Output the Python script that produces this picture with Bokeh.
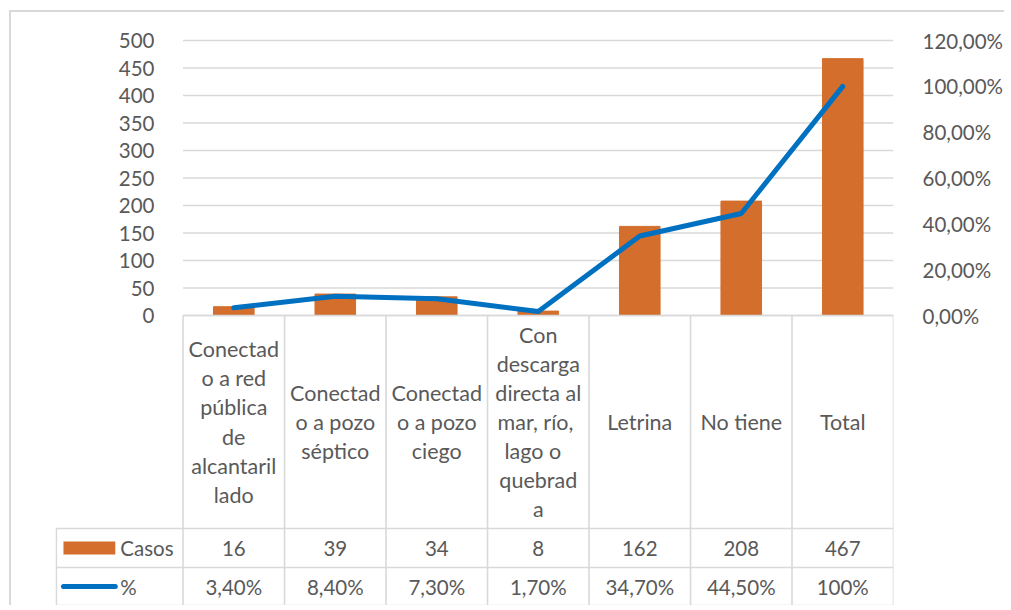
from bokeh.plotting import figure
from bokeh.models import Range1d, LinearAxis, FixedTicker, CustomJSTickFormatter
from bokeh.core.properties import value
from bokeh.embed import file_html
from bokeh.resources import INLINE

# ---------------- data ----------------
category_labels = [
    "Conectad\no a red\npública\nde\nalcantaril\nlado",
    "Conectad\no a pozo\nséptico",
    "Conectad\no a pozo\nciego",
    "Con\ndescarga\ndirecta al\nmar,  río,\nlago   o\nquebrad\na",
    "Letrina",
    "No tiene",
    "Total",
]
casos = [16, 39, 34, 8, 162, 208, 467]
pct = [0.034, 0.084, 0.073, 0.017, 0.347, 0.445, 1.00]
pct_labels = ["3,40%", "8,40%", "7,30%", "1,70%", "34,70%", "44,50%", "100%"]
series_names = ["Casos", "%"]
left_ticks = [0, 50, 100, 150, 200, 250, 300, 350, 400, 450, 500]
right_ticks = [0.0, 0.2, 0.4, 0.6, 0.8, 1.0, 1.2]

# ---------------- styles ----------------
ORANGE = "#D36E2C"
BLUE = "#0070C0"
TXT = "#595959"
GRID = "#D9D9D9"
FONT = value("Lato")
FS = "20.5px"
FS_CAT = "21.5px"

# ---------------- geometry (page pixels) ----------------
CANVAS_X, CANVAS_Y = 11, 12        # after margin + border
W, H = 995, 595
FRAME_L, FRAME_R = 55, 896
FRAME_T, FRAME_B = 36, 607
ZERO_PX, TOP_PX = 315, 40          # y pixel of 0 and of 500 on left axis
LEG_W = 128                         # legend column width (px)
n = len(casos)
cell_w = (FRAME_R - FRAME_L - LEG_W) / n
ppu_left = (ZERO_PX - TOP_PX) / left_ticks[-1]
ppu_right = (ZERO_PX - TOP_PX) / right_ticks[-1]

def Y(py):  # page pixel -> left-axis data
    return (ZERO_PX - py) / ppu_left

def X(px):  # page pixel -> x data
    return -0.5 + (px - (FRAME_L + LEG_W)) / cell_w

xs = list(range(n))
x_start = X(FRAME_L)
x_end = n - 0.5

CAT_BOTTOM, ROW1_BOTTOM, ROW2_BOTTOM = 528, 567, 605

p = figure(
    width=W, height=H,
    x_range=Range1d(x_start, x_end),
    y_range=Range1d(Y(FRAME_B), Y(FRAME_T)),
    x_axis_location=None,
    output_backend="svg", toolbar_location=None,
    min_border_left=FRAME_L - CANVAS_X, min_border_right=CANVAS_X + W - FRAME_R,
    min_border_top=FRAME_T - CANVAS_Y, min_border_bottom=CANVAS_Y + H - FRAME_B,
)
p.styles = {
    "margin-left": "9px", "margin-top": "10px",
    "border-left": "2px solid #D9D9D9", "border-top": "2px solid #D9D9D9",
}
p.outline_line_color = None
p.grid.visible = False
p.background_fill_color = "white"
p.border_fill_color = "white"

# left axis
ya = p.yaxis[0]
ya.ticker = FixedTicker(ticks=left_ticks)
ya.axis_line_color = None
ya.major_tick_line_color = None
ya.minor_tick_line_color = None
ya.major_label_standoff = -(160 - FRAME_L)
ya.major_label_text_font = "Lato"
ya.major_label_text_font_size = FS
ya.major_label_text_color = TXT

# right axis
p.extra_y_ranges = {"pct": Range1d((ZERO_PX - FRAME_B) / ppu_right, (ZERO_PX - FRAME_T) / ppu_right)}
ra = LinearAxis(
    y_range_name="pct",
    ticker=FixedTicker(ticks=right_ticks),
    formatter=CustomJSTickFormatter(code="return (tick*100).toFixed(2).replace('.', ',') + '%';"),
)
ra.axis_line_color = None
ra.major_tick_line_color = None
ra.minor_tick_line_color = None
ra.major_label_standoff = 919 - FRAME_R
ra.major_label_text_font = "Lato"
ra.major_label_text_font_size = FS
ra.major_label_text_color = TXT
p.add_layout(ra, "right")

# gridlines
p.segment(x0=-0.5, x1=x_end, y0=left_ticks, y1=left_ticks, line_color=GRID, line_width=1.3)

# bars & line
p.vbar(x=xs, top=casos, width=0.4, fill_color=ORANGE, line_color=ORANGE)
p.line(xs, pct, y_range_name="pct", line_color=BLUE, line_width=5,
       line_cap="round", line_join="round")

# table lines
hy = [Y(CAT_BOTTOM), Y(ROW1_BOTTOM), Y(ROW2_BOTTOM)]
p.segment(x0=x_start + 0.003, x1=x_end, y0=hy, y1=hy, line_color=GRID, line_width=1.6)
p.segment(x0=-0.5, x1=x_end, y0=0, y1=0, line_color=GRID, line_width=1.6)
vx = [i - 0.5 for i in range(n + 1)]
p.segment(x0=vx, x1=vx, y0=0, y1=Y(ROW2_BOTTOM), line_color=GRID, line_width=1.6)
p.segment(x0=x_start + 0.008, x1=x_start + 0.008, y0=Y(CAT_BOTTOM), y1=Y(ROW2_BOTTOM),
          line_color=GRID, line_width=1.6)

# category labels
cat_mid = Y((ZERO_PX + CAT_BOTTOM) / 2)
p.text(x=xs, y=[cat_mid] * n, text=category_labels, text_align="center",
       text_baseline="middle", text_font=FONT, text_font_size=FS_CAT,
       text_color=TXT, text_line_height=1.12)

# table values
r1 = Y((CAT_BOTTOM + ROW1_BOTTOM) / 2)
r2 = Y((ROW1_BOTTOM + ROW2_BOTTOM) / 2)
p.text(x=xs, y=[r1] * n, text=[str(v) for v in casos], text_align="center",
       text_baseline="middle", text_font=FONT, text_font_size=FS, text_color=TXT)
p.text(x=xs, y=[r2] * n, text=pct_labels, text_align="center",
       text_baseline="middle", text_font=FONT, text_font_size=FS, text_color=TXT)

# legend keys
p.rect(x=[(X(63) + X(115)) / 2], y=[r1], width=X(115) - X(63), height=13 / ppu_left,
       fill_color=ORANGE, line_color=None)
p.line([X(63), X(115)], [r2, r2], line_color=BLUE, line_width=5, line_cap="round")
p.text(x=[X(120)] * 2, y=[r1, r2], text=series_names, text_align="left",
       text_baseline="middle", text_font=FONT, text_font_size=FS, text_color=TXT)

open("out.html", "w").write(file_html(p, INLINE))
